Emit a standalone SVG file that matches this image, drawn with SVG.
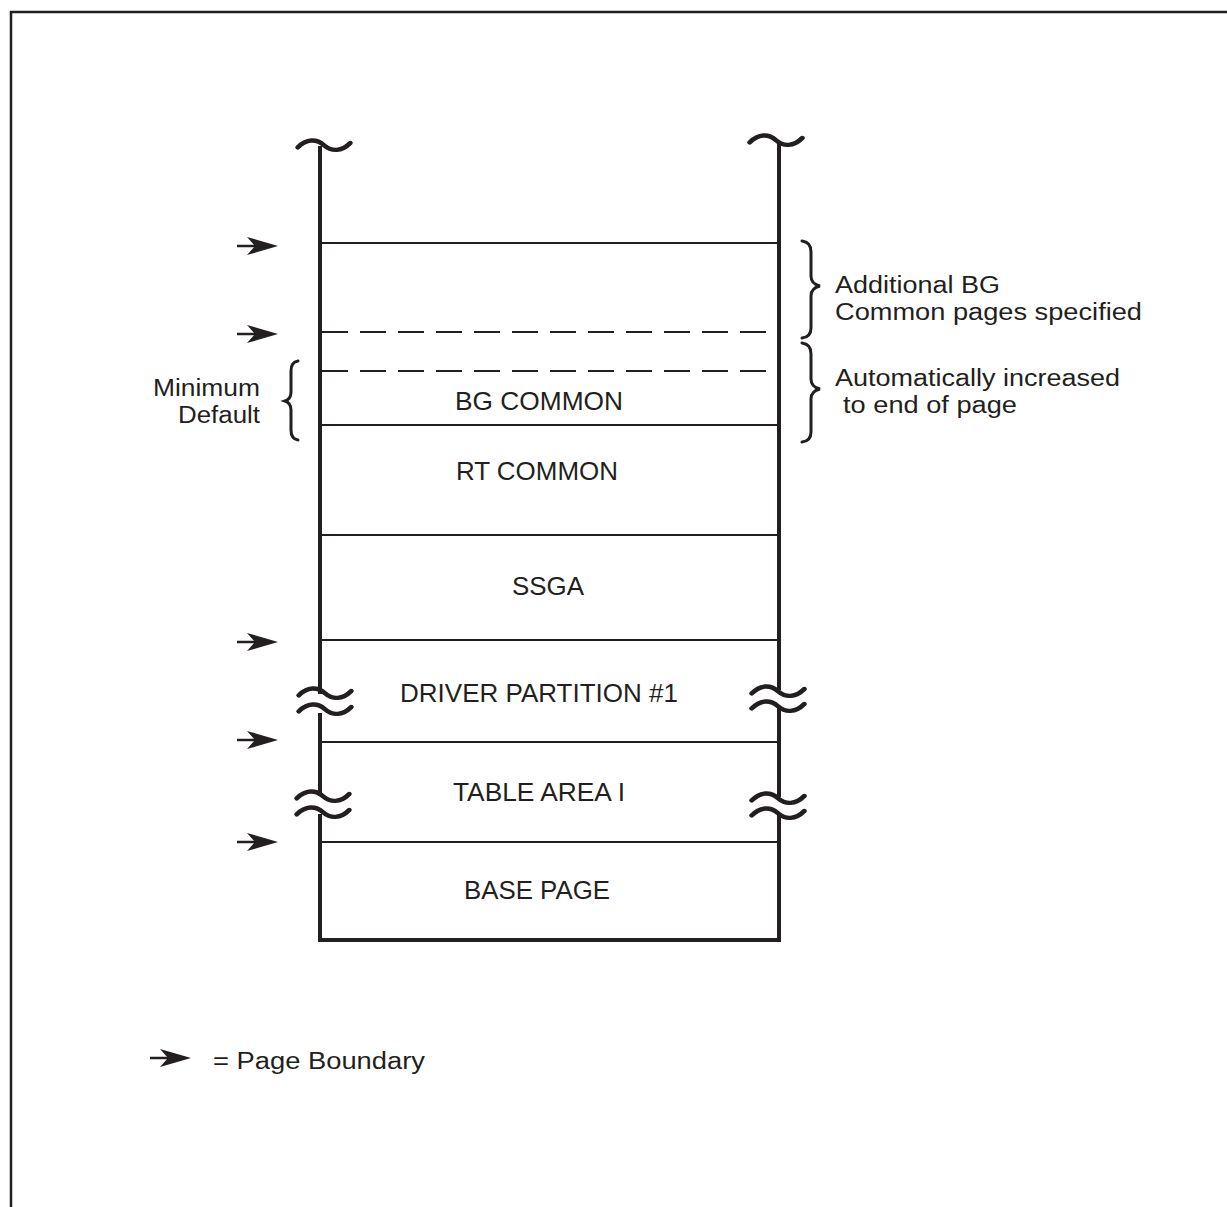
<svg xmlns="http://www.w3.org/2000/svg" width="1227" height="1207" viewBox="0 0 1227 1207">
<defs>
<style>
.t{font-family:"Liberation Sans",Arial,sans-serif;fill:#231f20}
.s{font-size:23px}
.m{font-size:25px}
.c{text-anchor:middle}
.r{text-anchor:end}
.thick{stroke:#231f20;stroke-width:4;fill:none}
.thin{stroke:#231f20;stroke-width:2;fill:none}
.dash{stroke:#231f20;stroke-width:2;fill:none;stroke-dasharray:26 12}
.wave{stroke:#231f20;stroke-width:4;fill:none;stroke-linecap:round}
.brace{stroke:#231f20;stroke-width:3;fill:none;stroke-linecap:round}
</style>
<g id="arr">
<line x1="-41" y1="0" x2="-22" y2="0" stroke="#231f20" stroke-width="2.5"/>
<path d="M-31,-9 L0,0 L-31,9 L-23,0 Z" fill="#231f20"/>
</g>
<path id="tl" d="M-21,4 C-14,-4 -6,-4 0,2 C6,8 14,8 21,0"/>
</defs>
<rect width="1227" height="1207" fill="#fff"/>
<path d="M11,1207 V12 H1227" stroke="#231f20" stroke-width="2.5" fill="none"/>

<g id="connectors">
<line class="thick" x1="320" y1="146" x2="320" y2="694"/>
<line class="thick" x1="320" y1="713" x2="320" y2="796"/>
<line class="thick" x1="320" y1="814" x2="320" y2="942"/>
<line class="thick" x1="779" y1="141" x2="779" y2="690"/>
<line class="thick" x1="779" y1="708" x2="779" y2="797"/>
<line class="thick" x1="779" y1="815" x2="779" y2="942"/>
<line class="thick" x1="318" y1="940" x2="781" y2="940"/>
<line class="thin" x1="320" y1="243" x2="779" y2="243"/>
<line class="dash" x1="322" y1="332" x2="779" y2="332"/>
<line class="dash" x1="322" y1="371" x2="779" y2="371"/>
<line class="thin" x1="320" y1="425" x2="779" y2="425"/>
<line class="thin" x1="320" y1="535" x2="779" y2="535"/>
<line class="thin" x1="320" y1="640" x2="779" y2="640"/>
<line class="thin" x1="320" y1="742" x2="779" y2="742"/>
<line class="thin" x1="320" y1="842" x2="779" y2="842"/>
<use href="#tl" class="wave" transform="translate(324,143) scale(1.25,1.1)"/>
<use href="#tl" class="wave" transform="translate(776,138) scale(1.25,1.1)"/>
<use href="#tl" class="wave" transform="translate(325,691) scale(1.25,1.1)"/>
<use href="#tl" class="wave" transform="translate(325,707) scale(1.25,1.1)"/>
<use href="#tl" class="wave" transform="translate(323,794) scale(1.25,1.1)"/>
<use href="#tl" class="wave" transform="translate(323,810) scale(1.25,1.1)"/>
<use href="#tl" class="wave" transform="translate(778,689) scale(1.25,1.1)"/>
<use href="#tl" class="wave" transform="translate(778,704) scale(1.25,1.1)"/>
<use href="#tl" class="wave" transform="translate(778,796) scale(1.25,1.1)"/>
<use href="#tl" class="wave" transform="translate(778,811) scale(1.25,1.1)"/>
<use href="#arr" transform="translate(278,246)"/>
<use href="#arr" transform="translate(278,334)"/>
<use href="#arr" transform="translate(278,642)"/>
<use href="#arr" transform="translate(278,740)"/>
<use href="#arr" transform="translate(278,842)"/>
<use href="#arr" transform="translate(191,1058)"/>
<path class="brace" d="M802,241 Q811,242 811,252 L811,276 Q811,284 820,286 Q811,288 811,296 L811,328 Q811,337 802,338"/>
<path class="brace" d="M802,343 Q811,344 811,354 L811,379 Q811,387 820,389 Q811,391 811,399 L811,432 Q811,441 802,442"/>
<path class="brace" d="M298,361 Q291,362 291,371 L291,392 Q291,399 285,401 Q291,403 291,410 L291,430 Q291,439 298,440"/>
</g>

<g id="labels">
<text class="t s" x="835" y="293" textLength="165" lengthAdjust="spacingAndGlyphs">Additional BG</text>
<text class="t s" x="835" y="320" textLength="307" lengthAdjust="spacingAndGlyphs">Common pages specified</text>
<text class="t s" x="835" y="386" textLength="285" lengthAdjust="spacingAndGlyphs">Automatically increased</text>
<text class="t s" x="843" y="413" textLength="174" lengthAdjust="spacingAndGlyphs">to end of page</text>
<text class="t s" x="153" y="396" textLength="107" lengthAdjust="spacingAndGlyphs">Minimum</text>
<text class="t s" x="178" y="423" textLength="82" lengthAdjust="spacingAndGlyphs">Default</text>
<text class="t s" x="213" y="1069" textLength="212" lengthAdjust="spacingAndGlyphs">= Page Boundary</text>
</g>
<g id="node-bg"><text class="t m" x="455" y="410" textLength="168" lengthAdjust="spacingAndGlyphs">BG COMMON</text></g>
<g id="node-rt"><text class="t m" x="456" y="480" textLength="162" lengthAdjust="spacingAndGlyphs">RT COMMON</text></g>
<g id="node-ssga"><text class="t m" x="512" y="595" textLength="72" lengthAdjust="spacingAndGlyphs">SSGA</text></g>
<g id="node-driver"><text class="t m" x="400" y="702" textLength="278" lengthAdjust="spacingAndGlyphs">DRIVER PARTITION #1</text></g>
<g id="node-table"><text class="t m" x="453" y="801" textLength="172" lengthAdjust="spacingAndGlyphs">TABLE AREA I</text></g>
<g id="node-base"><text class="t m" x="464" y="899" textLength="146" lengthAdjust="spacingAndGlyphs">BASE PAGE</text></g>
</svg>
